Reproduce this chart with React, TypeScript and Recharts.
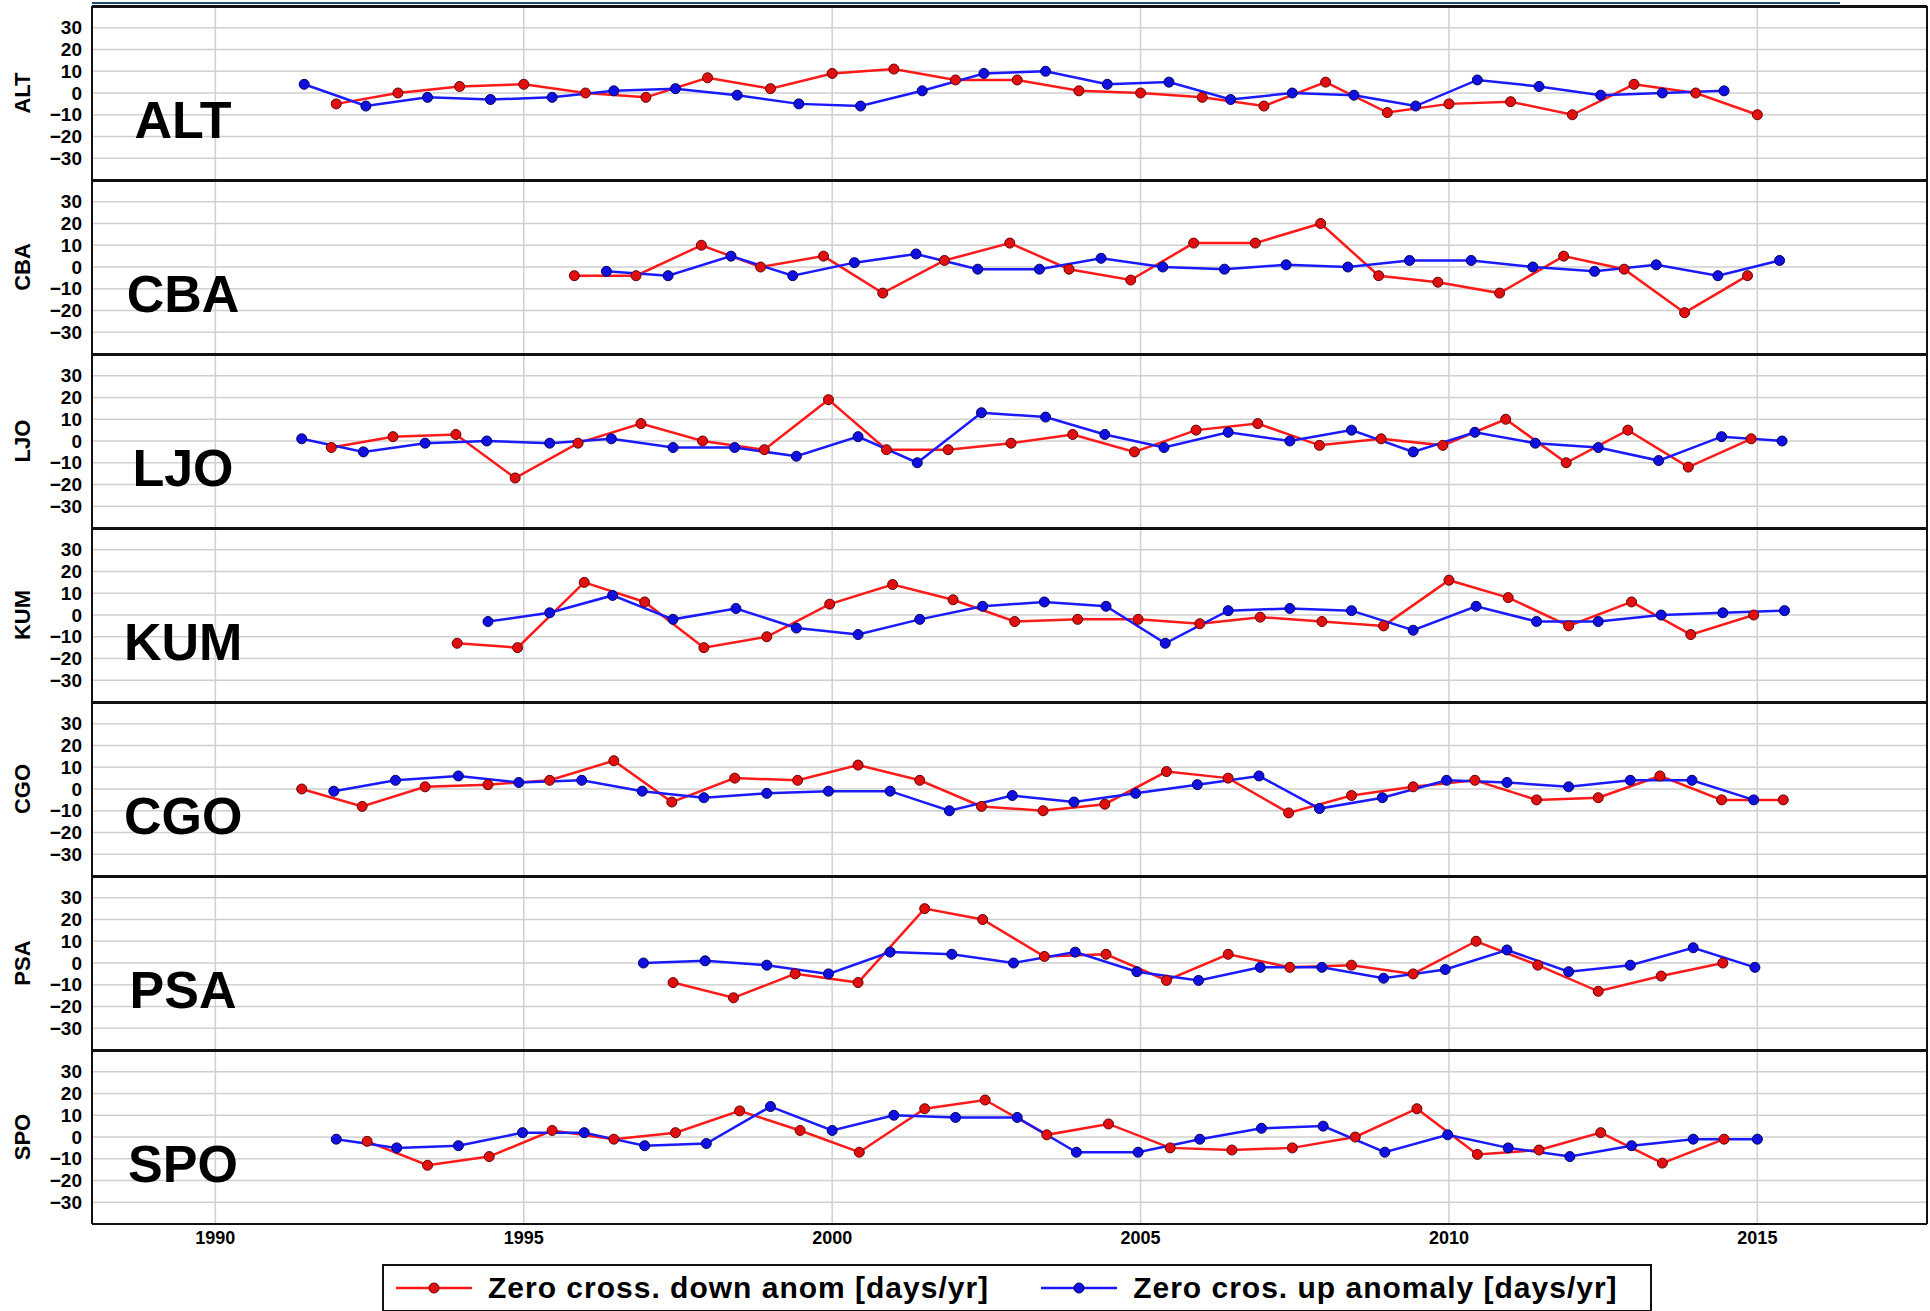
import React from "react";
import { LineChart, Line, XAxis, YAxis, CartesianGrid } from "recharts";

const stations = ["ALT", "CBA", "LJO", "KUM", "CGO", "PSA", "SPO"];
const xTicks = [1990, 1995, 2000, 2005, 2010, 2015];
const yTicks = [-30, -20, -10, 0, 10, 20, 30];

const altDownX = [1991.96,1992.96,1993.96,1995.0,1996.0,1996.98,1997.98,1999.0,2000.0,2001.0,2002.0,2003.0,2004.0,2005.0,2006.0,2007.0,2008.0,2009.0,2010.0,2011.0,2012.0,2013.0,2014.0,2015.0];
const altDownY = [-5,0,3,4,0,-2,7,2,9,11,6,6,1,0,-2,-6,5,-9,-5,-4,-10,4,0,-10];
const altUpX = [1991.44,1992.44,1993.44,1994.46,1995.46,1996.46,1997.46,1998.46,1999.46,2000.46,2001.46,2002.46,2003.46,2004.46,2005.46,2006.46,2007.46,2008.46,2009.46,2010.46,2011.46,2012.46,2013.46,2014.46];
const altUpY = [4,-6,-2,-3,-2,1,2,-1,-5,-6,1,9,10,4,5,-3,0,-1,-6,6,3,-1,0,1];

const cbaDownX = [1995.82,1996.82,1997.88,1998.84,1999.86,2000.82,2001.82,2002.88,2003.84,2004.84,2005.86,2006.86,2007.92,2008.86,2009.82,2010.82,2011.86,2012.84,2013.82,2014.84];
const cbaDownY = [-4,-4,10,0,5,-12,3,11,-1,-6,11,11,20,-4,-7,-12,5,-1,-21,-4];
const cbaUpX = [1996.34,1997.34,1998.36,1999.36,2000.36,2001.36,2002.36,2003.36,2004.36,2005.36,2006.36,2007.36,2008.36,2009.36,2010.36,2011.36,2012.36,2013.36,2014.36,2015.36];
const cbaUpY = [-2,-4,5,-4,2,6,-1,-1,4,0,-1,1,0,3,3,0,-2,1,-4,3];

const ljoDownX = [1991.88,1992.88,1993.9,1994.86,1995.88,1996.9,1997.9,1998.9,1999.94,2000.88,2001.88,2002.9,2003.9,2004.9,2005.9,2006.9,2007.9,2008.9,2009.9,2010.92,2011.9,2012.9,2013.88,2014.9];
const ljoDownY = [-3,2,3,-17,-1,8,0,-4,19,-4,-4,-1,3,-5,5,8,-2,1,-2,10,-10,5,-12,1];
const ljoUpX = [1991.4,1992.4,1993.4,1994.4,1995.42,1996.42,1997.42,1998.42,1999.42,2000.42,2001.38,2002.42,2003.46,2004.42,2005.38,2006.42,2007.42,2008.42,2009.42,2010.42,2011.4,2012.42,2013.4,2014.42,2015.4];
const ljoUpY = [1,-5,-1,0,-1,1,-3,-3,-7,2,-10,13,11,3,-3,4,0,5,-5,4,-1,-3,-9,2,0];

const kumDownX = [1993.92,1994.9,1995.98,1996.96,1997.92,1998.94,1999.96,2000.98,2001.96,2002.96,2003.98,2004.96,2005.96,2006.94,2007.94,2008.94,2010.0,2010.96,2011.94,2012.96,2013.92,2014.94];
const kumDownY = [-13,-15,15,6,-15,-10,5,14,7,-3,-2,-2,-4,-1,-3,-5,16,8,-5,6,-9,0];
const kumUpX = [1994.42,1995.42,1996.44,1997.42,1998.44,1999.42,2000.42,2001.42,2002.44,2003.44,2004.44,2005.4,2006.42,2007.42,2008.42,2009.42,2010.44,2011.42,2012.42,2013.44,2014.44,2015.44];
const kumUpY = [-3,1,9,-2,3,-6,-9,-2,4,6,4,-13,2,3,2,-7,4,-3,-3,0,1,2];

const cgoDownX = [1991.4,1992.38,1993.4,1994.42,1995.42,1996.46,1997.4,1998.42,1999.44,2000.42,2001.42,2002.42,2003.42,2004.42,2005.42,2006.42,2007.4,2008.42,2009.42,2010.42,2011.42,2012.42,2013.42,2014.42,2015.42];
const cgoDownY = [0,-8,1,2,4,13,-6,5,4,11,4,-8,-10,-7,8,5,-11,-3,1,4,-5,-4,6,-5,-5];
const cgoUpX = [1991.92,1992.92,1993.94,1994.92,1995.94,1996.92,1997.92,1998.94,1999.94,2000.94,2001.9,2002.92,2003.92,2004.92,2005.92,2006.92,2007.9,2008.92,2009.96,2010.94,2011.94,2012.94,2013.94,2014.94];
const cgoUpY = [-1,4,6,3,4,-1,-4,-2,-1,-1,-10,-3,-6,-2,2,6,-9,-4,4,3,1,4,4,-5];

const psaDownX = [1997.42,1998.4,1999.4,2000.42,2001.5,2002.44,2003.44,2004.44,2005.42,2006.42,2007.42,2008.42,2009.42,2010.44,2011.44,2012.42,2013.44,2014.44];
const psaDownY = [-9,-16,-5,-9,25,20,3,4,-8,4,-2,-1,-5,10,-1,-13,-6,0];
const psaUpX = [1996.94,1997.94,1998.94,1999.94,2000.94,2001.94,2002.94,2003.94,2004.94,2005.94,2006.94,2007.94,2008.94,2009.94,2010.94,2011.94,2012.94,2013.96,2014.96];
const psaUpY = [0,1,-1,-5,5,4,0,5,-4,-8,-2,-2,-7,-3,6,-4,-1,7,-2];

const spoDownX = [1992.46,1993.44,1994.44,1995.46,1996.46,1997.46,1998.5,1999.48,2000.44,2001.5,2002.48,2003.48,2004.48,2005.48,2006.48,2007.46,2008.48,2009.48,2010.46,2011.46,2012.46,2013.46,2014.46];
const spoDownY = [-2,-13,-9,3,-1,2,12,3,-7,13,17,1,6,-5,-6,-5,0,13,-8,-6,2,-12,-1];
const spoUpX = [1991.96,1992.94,1993.94,1994.98,1995.98,1996.96,1997.96,1999.0,2000.0,2001.0,2002.0,2003.0,2003.96,2004.96,2005.96,2006.96,2007.96,2008.96,2009.98,2010.96,2011.96,2012.96,2013.96,2015.0];
const spoUpY = [-1,-5,-4,2,2,-4,-3,14,3,10,9,9,-7,-7,-1,4,5,-7,1,-5,-9,-4,-1,-1];

const downX = [altDownX, cbaDownX, ljoDownX, kumDownX, cgoDownX, psaDownX, spoDownX];
const downY = [altDownY, cbaDownY, ljoDownY, kumDownY, cgoDownY, psaDownY, spoDownY];
const upX = [altUpX, cbaUpX, ljoUpX, kumUpX, cgoUpX, psaUpX, spoUpX];
const upY = [altUpY, cbaUpY, ljoUpY, kumUpY, cgoUpY, psaUpY, spoUpY];

const zip = (xs: number[], ys: number[]) => xs.map((x, i) => ({ x, y: ys[i] }));

const FONT = "'Liberation Sans', Arial, sans-serif";
const PANEL_TOP = 6;
const PANEL_H = 174;
const PLOT_L = 92;
const PLOT_R = 1927;
const XAX_H = 45;
const fmtY = (v: number) => (v < 0 ? "\u2212" + Math.abs(v) : String(v));

function Panel({ idx }: { idx: number }) {
  const last = idx === stations.length - 1;
  const h = PANEL_H + (last ? XAX_H : 0);
  return (
    <div style={{ position: "absolute", left: 0, top: PANEL_TOP + idx * PANEL_H, width: 1930, height: h }}>
      <LineChart width={1930} height={h} margin={{ top: 0, right: 1930 - PLOT_R, bottom: 0, left: PLOT_L - 46 }}>
        <CartesianGrid stroke="#d0d0d0" strokeWidth={1.5} horizontalValues={yTicks} verticalValues={xTicks} />
        <XAxis
          type="number"
          dataKey="x"
          domain={[1988, 2017.75]}
          ticks={xTicks}
          interval={0}
          allowDataOverflow
          hide={!last}
          height={XAX_H}
          axisLine={false}
          tickLine={false}
          tick={{ fontSize: 18, fontWeight: "bold", fill: "#000", fontFamily: FONT }}
          tickMargin={1}
        />
        <YAxis
          type="number"
          dataKey="y"
          domain={[-40, 40]}
          ticks={yTicks}
          interval={0}
          tickFormatter={fmtY}
          width={46}
          axisLine={false}
          tickLine={false}
          tick={{ fontSize: 19, fontWeight: "bold", fill: "#000", fontFamily: FONT }}
          tickMargin={4}
        />
        <Line
          data={zip(downX[idx], downY[idx])}
          dataKey="y"
          stroke="#ff1a1a"
          strokeWidth={2.5}
          dot={{ r: 5, fill: "#e01010", stroke: "#600", strokeWidth: 1 }}
          isAnimationActive={false}
        />
        <Line
          data={zip(upX[idx], upY[idx])}
          dataKey="y"
          stroke="#1a1aff"
          strokeWidth={2.5}
          dot={{ r: 5, fill: "#1010e0", stroke: "#006", strokeWidth: 1 }}
          isAnimationActive={false}
        />
      </LineChart>
      <div style={{ position: "absolute", left: 8, top: 0, height: PANEL_H, width: 30, display: "flex", alignItems: "center", justifyContent: "center" }}>
        <div style={{ transform: "rotate(-90deg)", fontFamily: FONT, fontWeight: "bold", fontSize: 22, whiteSpace: "nowrap" }}>{stations[idx]}</div>
      </div>
      <div style={{ position: "absolute", left: 124, top: 88, width: 118, textAlign: "center", fontFamily: FONT, fontWeight: "bold", fontSize: 52, lineHeight: "52px" }}>
        {stations[idx]}
      </div>
    </div>
  );
}

export default function App() {
  return (
    <div style={{ position: "absolute", left: 0, top: 0, width: 1930, height: 1311, background: "#fff" }}>
      <div style={{ position: "absolute", left: PLOT_L, top: 2, width: 1840 - PLOT_L, height: 2, background: "#1a4a6a" }} />
      {stations.map((_, i) => <Panel key={i} idx={i} />)}
      {stations.map((_, i) => (
        <div key={"b" + i} style={{ position: "absolute", left: PLOT_L, top: PANEL_TOP + i * PANEL_H - 1, width: PLOT_R - PLOT_L, height: 3, background: "#111" }} />
      ))}
      <div style={{ position: "absolute", left: PLOT_L, top: PANEL_TOP + 7 * PANEL_H - 1, width: PLOT_R - PLOT_L, height: 2, background: "#111" }} />
      <div style={{ position: "absolute", left: PLOT_L - 1, top: PANEL_TOP, width: 2, height: 7 * PANEL_H, background: "#111" }} />
      <div style={{ position: "absolute", left: PLOT_R - 1, top: PANEL_TOP, width: 2, height: 7 * PANEL_H, background: "#111" }} />
      <div style={{ position: "absolute", left: 382, top: 1264, width: 1270, height: 48, border: "2px solid #111", boxSizing: "border-box", display: "flex", alignItems: "center", fontFamily: FONT, fontWeight: "bold", fontSize: 30, letterSpacing: 1 }}>
        <svg width={80} height={20} style={{ marginLeft: 10 }}>
          <line x1={2} y1={10} x2={78} y2={10} stroke="#ff1a1a" strokeWidth={2.5} />
          <circle cx={40} cy={10} r={5} fill="#e01010" stroke="#600" />
        </svg>
        <span style={{ marginLeft: 14 }}>Zero cross. down anom [days/yr]</span>
        <svg width={80} height={20} style={{ marginLeft: 50 }}>
          <line x1={2} y1={10} x2={78} y2={10} stroke="#1a1aff" strokeWidth={2.5} />
          <circle cx={40} cy={10} r={5} fill="#1010e0" stroke="#006" />
        </svg>
        <span style={{ marginLeft: 14 }}>Zero cros. up anomaly [days/yr]</span>
      </div>
    </div>
  );
}
